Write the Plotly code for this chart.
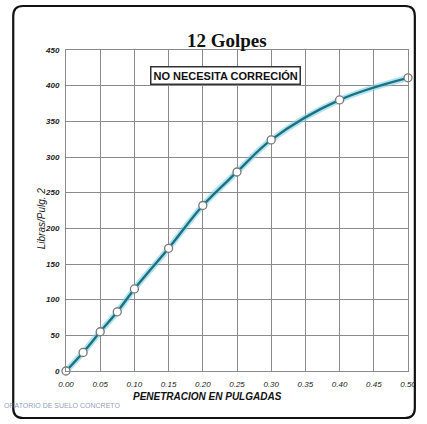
import plotly.graph_objects as go

penetracion = [0.0, 0.025, 0.05, 0.075, 0.10, 0.15, 0.20, 0.25, 0.30, 0.40, 0.50]
carga = [0, 26, 55, 83, 115, 172, 232, 279, 324, 380, 411]
x_ticks = [0.0, 0.05, 0.10, 0.15, 0.20, 0.25, 0.30, 0.35, 0.40, 0.45, 0.50]
y_ticks = [0, 50, 100, 150, 200, 250, 300, 350, 400, 450]

W, H = 427, 424
L, R, T, B = 66, 11, 50, 53
pw, ph = W - L - R, H - T - B

def px(x):
    return (x - L) / pw

def py(y):
    return 1 - (y - T) / ph

fig = go.Figure()
fig.add_trace(go.Scatter(x=penetracion, y=carga, mode="lines", line=dict(color="rgba(120,210,230,0.6)", width=6, shape="spline"),
                         hoverinfo="skip", showlegend=False, cliponaxis=False))
fig.add_trace(go.Scatter(x=penetracion, y=carga, mode="lines+markers",
                         line=dict(color="#1f6f80", width=2.4, shape="spline"),
                         marker=dict(symbol="circle", size=8, color="white", line=dict(color="#777", width=1.3)),
                         showlegend=False, cliponaxis=False))

# rounded frame
x0, x1, y0, y1, r = 12, 423, 6, 418, 10
path = (f"M {px(x0+r)} {py(y0)} L {px(x1-r)} {py(y0)} Q {px(x1)} {py(y0)} {px(x1)} {py(y0+r)} "
        f"L {px(x1)} {py(y1-r)} Q {px(x1)} {py(y1)} {px(x1-r)} {py(y1)} "
        f"L {px(x0+r)} {py(y1)} Q {px(x0)} {py(y1)} {px(x0)} {py(y1-r)} "
        f"L {px(x0)} {py(y0+r)} Q {px(x0)} {py(y0)} {px(x0+r)} {py(y0)} Z")
fig.add_shape(type="path", path=path, xref="paper", yref="paper", line=dict(color="#111", width=2.2), layer="above")

fig.add_annotation(text="<b>NO NECESITA CORRECIÓN</b>", xref="paper", yref="paper", x=px(229), y=py(66),
                   showarrow=False, font=dict(family="Liberation Sans", size=11, color="#111"),
                   bordercolor="#333", borderwidth=1.5, borderpad=2, bgcolor="white")
fig.add_annotation(text="<b>12 Golpes</b>", xref="paper", yref="paper", x=px(231), y=py(28),
                   showarrow=False, font=dict(family="Liberation Serif", size=19, color="#111"))
fig.add_annotation(text="<b><i>PENETRACION EN PULGADAS</i></b>", xref="paper", yref="paper", x=px(211), y=py(404),
                   showarrow=False, font=dict(family="Liberation Sans", size=10, color="#111"))
fig.add_annotation(text="<i>Libras/Pulg. 2</i>", xref="paper", yref="paper", x=px(34), y=py(218),
                   showarrow=False, textangle=-90, font=dict(family="Liberation Sans", size=10, color="#222"))
fig.add_annotation(text="ORATORIO DE SUELO CONCRETO", xref="paper", yref="paper", x=px(0), y=py(411),
                   xanchor="left", showarrow=False, font=dict(family="Liberation Sans", size=7, color="rgba(90,110,150,0.7)"))

axis_font = dict(family="Liberation Sans", size=8, color="#222")
fig.update_layout(
    width=W, height=H, margin=dict(l=L, r=R, t=T, b=B),
    paper_bgcolor="white", plot_bgcolor="white",
    xaxis=dict(range=[0, 0.5], tickvals=x_ticks, ticktext=[f"<i>{v:.2f}</i>" for v in x_ticks],
               showgrid=True, gridcolor="#8a8a8a", gridwidth=1, zeroline=False,
               showline=True, linecolor="#8a8a8a", mirror=True, tickfont=axis_font,
               ticks="outside", ticklen=5, tickcolor="rgba(0,0,0,0)"),
    yaxis=dict(range=[0, 450], tickvals=y_ticks, ticktext=[f"<b><i>{v}</i></b>" for v in y_ticks],
               showgrid=True, gridcolor="#8a8a8a", gridwidth=1, zeroline=False,
               showline=True, linecolor="#8a8a8a", mirror=True, tickfont=axis_font,
               ticks="outside", ticklen=4, tickcolor="rgba(0,0,0,0)"),
)
fig.write_html("out.html")
